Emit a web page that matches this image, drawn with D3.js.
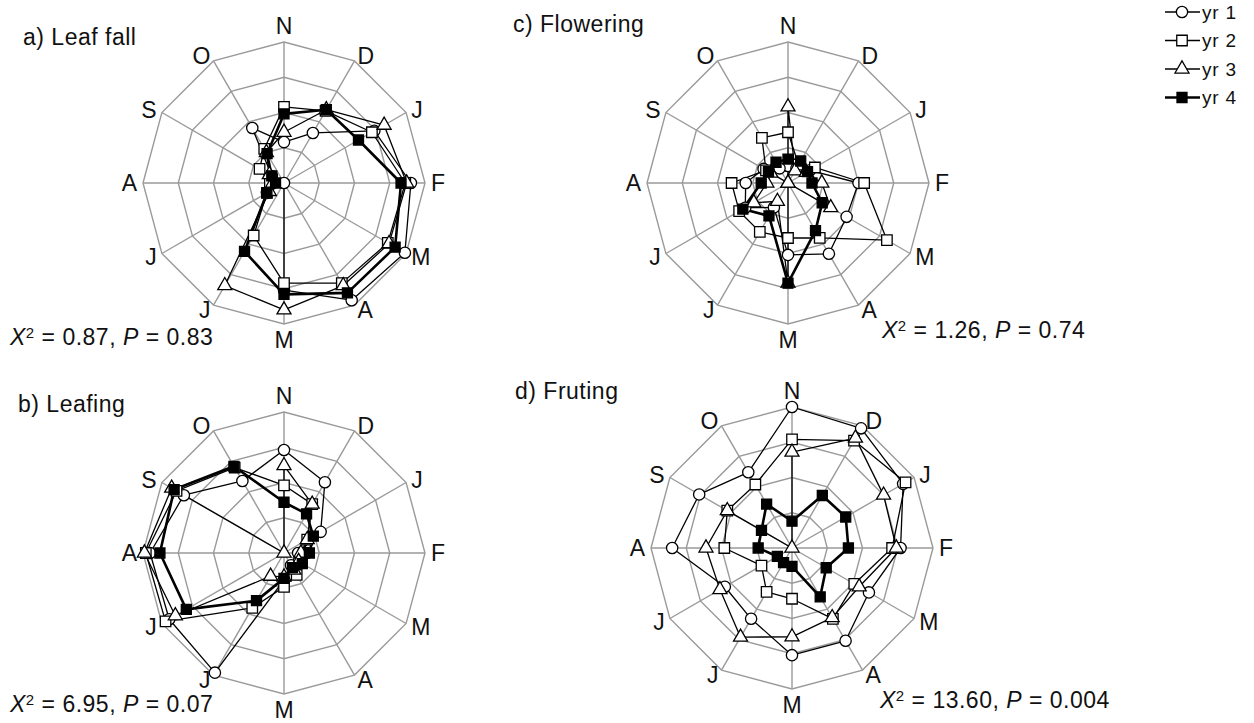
<!DOCTYPE html>
<html>
<head>
<meta charset="utf-8">
<script src="https://cdn.jsdelivr.net/npm/d3@7"></script>
<style>
  html, body { margin: 0; padding: 0; background: #fff; }
  svg { display: block; font-family: "Liberation Sans", Arial, sans-serif; }
</style>
</head>
<body>
<svg id="chart" width="1254" height="723"></svg>
<script>
// Month axes, clockwise from the top (November)
const months = ["N", "D", "J", "F", "M", "A", "M", "J", "J", "A", "S", "O"];
const years = ["yr 1", "yr 2", "yr 3", "yr 4"];
const ringTicks = [25, 50, 75, 100];

// Relative intensity (% of maximum) per month, one row per year
const leafFall = [
  [29, 41, 74, 90, 99, 96, 76, 0, 14, 8, 10, 45],
  [54, 59, 72, 86, 85, 82, 71, 43, 14, 10, 20, 28],
  [36, 60, 82, 87, 86, 84, 90, 84, 12, 8, 12, 25],
  [49, 60, 61, 83, 91, 90, 79, 56, 14, 6, 10, 24]
];
const leafing = [
  [73, 58, 30, 10, 12, 10, 19, 98, 94, 95, 82, 59],
  [48, 40, 19, 14, 14, 18, 24, 45, 97, 98, 88, 70],
  [62, 40, 19, 12, 12, 14, 17, 19, 89, 99, 92, 0],
  [36, 32, 24, 18, 15, 12, 18, 39, 80, 88, 90, 71]
];
const flowering = [
  [12, 12, 18, 50, 48, 58, 51, 20, 35, 30, 20, 12],
  [36, 15, 22, 54, 81, 45, 39, 40, 40, 40, 18, 37],
  [54, 10, 15, 24, 35, 0, 71, 15, 28, 15, 14, 0],
  [17, 18, 16, 17, 28, 39, 71, 27, 37, 19, 16, 17]
];
const fruiting = [
  [100, 98, 91, 77, 63, 76, 76, 58, 55, 85, 76, 62],
  [77, 88, 93, 71, 51, 58, 36, 36, 25, 48, 53, 52],
  [68, 90, 75, 74, 55, 57, 63, 73, 59, 61, 53, 0],
  [19, 43, 44, 40, 28, 40, 13, 12, 12, 24, 25, 36]
];

const panelTitles = ["a) Leaf fall", "b) Leafing", "c) Flowering", "d) Fruting"];
const chiSquares = ["0.87", "6.95", "1.26", "13.60"];
const pValues = ["0.83", "0.07", "0.74", "0.004"];

const svg = d3.select("#chart");
const R = 141;
const FONT = 23;

const panels = [
  { data: leafFall,  cx: 284, cy: 183, title: [23, 45],  stat: [10, 345] },
  { data: leafing,   cx: 284, cy: 553, title: [18, 412], stat: [10, 712] },
  { data: flowering, cx: 788, cy: 183, title: [513, 32], stat: [882, 338] },
  { data: fruiting,  cx: 792, cy: 548, title: [515, 399], stat: [880, 708] }
];

const rScale = d3.scaleLinear().domain([0, 100]).range([0, R]);
const angle = d3.scalePoint().domain(d3.range(months.length))
  .range([0, 2 * Math.PI * (months.length - 1) / months.length]);

function polar(i, v) {
  const a = angle(i);
  return [Math.sin(a) * rScale(v), -Math.cos(a) * rScale(v)];
}

const symbolFor = [
  d3.symbol().type(d3.symbolCircle).size(100),
  d3.symbol().type(d3.symbolSquare).size(110),
  d3.symbol().type(d3.symbolTriangle).size(85),
  d3.symbol().type(d3.symbolSquare).size(100)
];
const lineWidth = [1.3, 1.3, 1.3, 2.6];

panels.forEach((p, pi) => {
  const g = svg.append("g").attr("transform", `translate(${p.cx},${p.cy})`);

  // concentric 12-sided rings
  ringTicks.forEach(t => {
    g.append("path")
      .attr("d", d3.lineRadial().angle((d, i) => angle(i)).radius(() => rScale(t))
        .curve(d3.curveLinearClosed)(months))
      .attr("fill", "none").attr("stroke", "#9a9a9a").attr("stroke-width", 1.4);
  });
  // spokes
  months.forEach((m, i) => {
    const [x, y] = polar(i, 100);
    g.append("line").attr("x1", 0).attr("y1", 0).attr("x2", x).attr("y2", y)
      .attr("stroke", "#9a9a9a").attr("stroke-width", 1.4);
  });
  // month labels just outside each outer vertex
  months.forEach((m, i) => {
    const a = angle(i);
    const sx = Math.sin(a), sy = -Math.cos(a);
    const [vx, vy] = polar(i, 100);
    const vertical = Math.abs(sx) < 0.01;
    const gap = vertical ? 16 : 6;
    g.append("text")
      .attr("x", vx + sx * gap).attr("y", vy + sy * gap)
      .attr("text-anchor", vertical ? "middle" : (sx > 0 ? "start" : "end"))
      .attr("dominant-baseline", "central")
      .attr("font-size", FONT).attr("fill", "#111").text(m);
  });

  // year series
  p.data.forEach((vals, yi) => {
    const radial = d3.lineRadial()
      .angle((d, i) => angle(i))
      .radius(d => rScale(d))
      .curve(d3.curveLinearClosed);
    g.append("path").attr("d", radial(vals))
      .attr("fill", "none").attr("stroke", "#000")
      .attr("stroke-width", lineWidth[yi]).attr("stroke-linejoin", "round");
  });
  p.data.forEach((vals, yi) => {
    vals.forEach((v, i) => {
      const [x, y] = polar(i, v);
      g.append("path").attr("d", symbolFor[yi]())
        .attr("transform", `translate(${x},${y})`)
        .attr("fill", yi === 3 ? "#000" : "#fff")
        .attr("stroke", "#000").attr("stroke-width", 1.3);
    });
  });

  // title
  svg.append("text").attr("x", p.title[0]).attr("y", p.title[1])
    .attr("font-size", FONT).attr("letter-spacing", 0.5)
    .attr("fill", "#111").text(panelTitles[pi]);

  // chi-square statistic
  const st = svg.append("text").attr("x", p.stat[0]).attr("y", p.stat[1])
    .attr("font-size", FONT).attr("letter-spacing", 0.5).attr("fill", "#111");
  st.append("tspan").attr("font-style", "italic").text("X");
  st.append("tspan").attr("font-size", 15).attr("dy", -7).text("2");
  st.append("tspan").attr("dy", 7).text(` = ${chiSquares[pi]}, `);
  st.append("tspan").attr("font-style", "italic").text("P");
  st.append("tspan").text(` = ${pValues[pi]}`);
});

// legend
const legend = svg.append("g").attr("transform", "translate(1165,12)");
years.forEach((y, yi) => {
  const row = legend.append("g").attr("transform", `translate(0,${yi * 28.5})`);
  row.append("line").attr("x1", 0).attr("x2", 35).attr("y1", 0).attr("y2", 0)
    .attr("stroke", "#000").attr("stroke-width", lineWidth[yi]);
  row.append("path").attr("d", symbolFor[yi]()).attr("transform", "translate(17,0)")
    .attr("fill", yi === 3 ? "#000" : "#fff").attr("stroke", "#000").attr("stroke-width", 1.3);
  row.append("text").attr("x", 37).attr("y", 0).attr("dominant-baseline", "central")
    .attr("font-size", 19).attr("letter-spacing", 0.8).attr("fill", "#111").text(y);
});
</script>
</body>
</html>
